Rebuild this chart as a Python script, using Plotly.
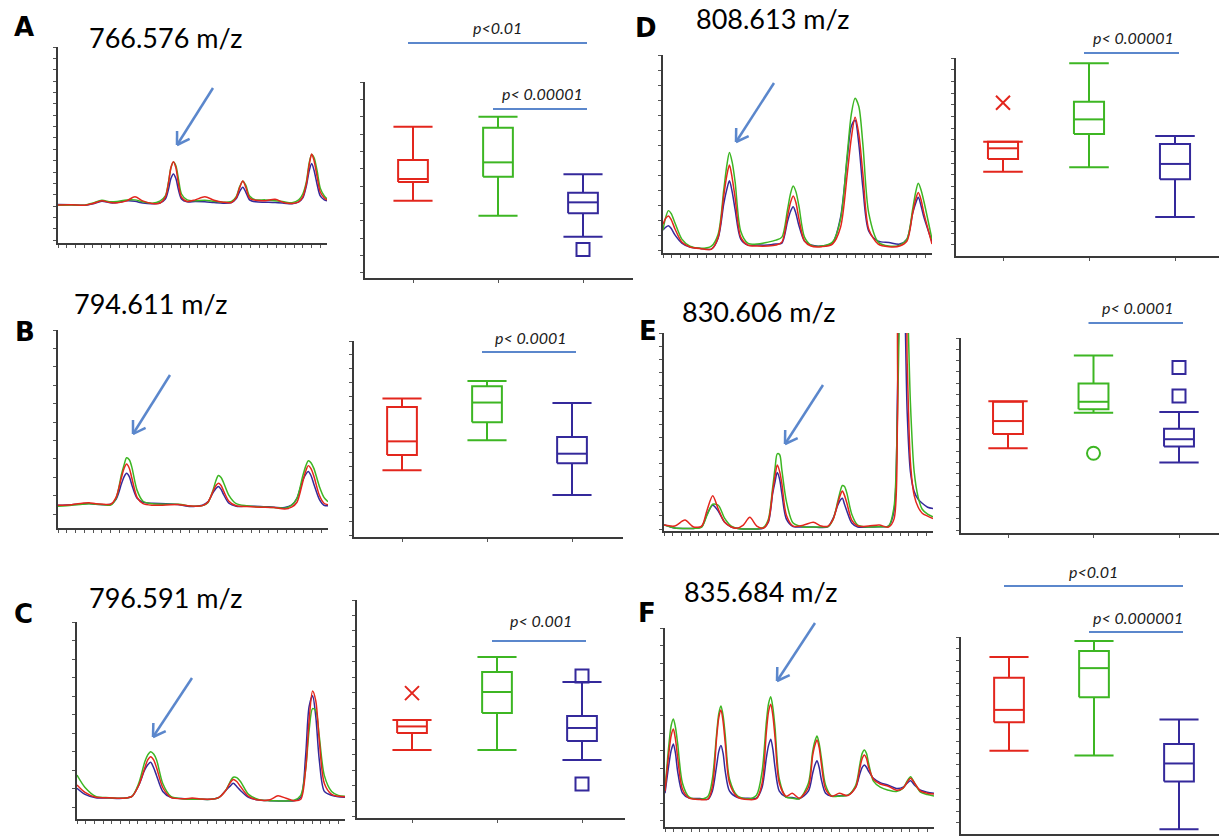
import math
import plotly.graph_objects as go

W, H = 1219, 836
RED, GREEN, NAVY, BLUE = "#e3261d", "#3db623", "#34299b", "#5b87cc"

# ---------------- spectra data (x: % of m/z window, y: % relative intensity) -------------
A_x = [0, 5, 10, 13, 16.3, 19.5, 22, 25.5, 28.6, 31.5, 35, 38, 39.9, 41.0, 42.0, 42.9, 43.8, 44.8, 45.9, 48, 51, 54.6,
       58, 61.4, 64.5, 66.2, 67.6, 68.7, 69.8, 71.2, 73.5, 77, 80.7, 84, 87, 89.5, 91, 92.3, 93.4, 94.3, 95.2, 96.3, 97.5,
       99, 100]
A_red = [19.4, 19.5, 19.3, 20.2, 21.5, 20.6, 20.5, 21.5, 23.6, 21.5, 20.2, 20.4, 23.4, 30, 38.5, 41.5, 38.5, 30, 23.4,
         21.2, 22.0, 23.6, 21.8, 20.8, 20.7, 23.0, 28.5, 31.6, 28.5, 23, 21.8, 21.6, 22.3, 20.6, 20.2, 21, 23.5, 30, 40,
         45.4, 42, 34, 26, 23, 22]
A_green = [19.2, 19.4, 19.3, 20.4, 21.8, 21.0, 21.2, 22.0, 22.0, 21.0, 20.3, 21.5, 24, 30.5, 38.5, 41.3, 39.5, 32.5, 25,
           22, 21.6, 21.8, 21.3, 20.8, 21.2, 23.5, 29, 31.5, 29.5, 24, 22, 22, 21.6, 21.0, 20.6, 22, 25, 31, 41, 45.2,
           43.5, 37, 28, 24, 22.5]
A_navy = [19.6, 19.5, 19.3, 20.0, 21.3, 20.5, 20.6, 21.5, 21.3, 20.4, 20.0, 20.5, 22.4, 27, 33, 35.2, 33, 27, 22.5, 21,
          21.2, 21.0, 20.6, 20.3, 20.6, 22.5, 26.5, 28.4, 26, 22, 21, 20.8, 20.6, 20.3, 20.0, 21, 23, 29, 37, 40.6, 37,
          30, 24, 22, 21.5]

B_x = [0, 5, 9, 11.5, 14, 17, 19.5, 21.5, 23.5, 24.5, 25.4, 26.4, 27.3, 29.3, 31.5, 35, 40, 45, 48, 51, 53.5, 55.5,
       57.5, 58.5, 59.4, 60.4, 61.3, 63.3, 66, 70, 75, 80, 84, 86.5, 88.5, 90.6, 91.7, 92.7, 93.7, 94.8, 96.8, 98.5, 100]
B_red = [11.5, 11.8, 12.5, 12.8, 12.2, 12, 12, 15.5, 25.5, 30.2, 32.3, 30.2, 25.5, 15.5, 12.3, 11.5, 11.6, 11.8, 11.2,
         11, 11.3, 13, 18.8, 21.5, 22.6, 21.5, 18.8, 13.5, 11.2, 10.8, 10.5, 10.3, 9.6, 10.5, 13, 23, 28.5, 31.5, 30, 26,
         16.5, 12.5, 11.8]
B_green = [11, 11.5, 12, 12.2, 12, 11.8, 11.6, 15, 27, 32, 35.5, 34.5, 31, 19, 13.5, 12.2, 12, 12, 11.3, 11, 11.3, 12.8,
           19.5, 24, 26.5, 25.5, 23, 16.5, 12.3, 11.2, 10.6, 10.4, 10, 11.5, 15, 26, 31, 34, 33, 30, 21, 15.5, 13.3]
B_navy = [11.5, 11.8, 12.2, 12.4, 12, 11.8, 12, 14.5, 22.3, 26, 27.6, 26, 22, 15, 13, 12.5, 12.3, 11.8, 11, 11, 11.5,
          13.2, 18, 20, 20.9, 19.5, 17, 12.5, 11, 11, 10.9, 10.5, 10.3, 11.5, 15, 24, 27, 28.5, 26.5, 22, 14.5, 11.5, 11.2]

C_x = [0, 3, 7, 12, 17, 20.5, 23, 25.3, 26.4, 27.5, 28.6, 29.7, 32, 35, 40, 43, 46, 50, 53, 55.5, 57, 58.3, 59.6, 61,
       64, 68, 72, 75, 78, 81, 83.5, 85.3, 86.6, 87.9, 89.1, 90.4, 92.3, 95, 97.5, 100]
C_red = [17.3, 13.5, 11, 10.8, 10.5, 11.5, 17, 26, 30, 31.6, 30, 26, 16, 11, 10.3, 10.6, 10.2, 10, 11, 14.5, 18, 20.1,
         19, 16.5, 11.5, 9.6, 9.8, 11.8, 10.5, 9.3, 10, 25, 50, 65, 60, 40, 18, 12.5, 11.5, 11.3]
C_green = [22.3, 16, 11.5, 10.8, 10.5, 11.5, 18, 29, 32.5, 34.2, 33, 30, 18, 11.5, 10.2, 10, 10, 10, 11, 14.5, 18.5, 21.2,
           21, 19, 12.5, 9.8, 9.3, 9.2, 9.2, 9.5, 12, 25, 45, 56, 55, 42, 22, 14, 12, 11.5]
C_navy = [15.6, 12.5, 10.8, 10.6, 10.5, 11.5, 17, 25, 27.5, 28.8, 26, 22, 14, 11, 10.3, 10.2, 10, 10, 11, 14.5, 16.5,
          18.1, 16.5, 14.5, 11, 9.6, 9.3, 9.2, 9.2, 9.3, 11, 32, 57, 62.5, 52, 30, 14, 12, 11.3, 11]

D_x = [0, 1, 2, 3, 4.5, 7, 10, 14, 18, 20.5, 22.6, 23.7, 24.7, 25.7, 26.8, 28.9, 31.5, 35, 39, 42, 44.2, 46.3, 47.4,
       48.4, 49.4, 50.5, 52.6, 55, 59, 63, 66, 68.5, 70, 71.4, 72.8, 74.3, 76.5, 80, 84, 88, 90.7, 92.8, 93.9, 94.9, 95.9,
       97, 100]
D_red = [14.5, 17.5, 18.7, 17, 12, 5.5, 3, 2.2, 2, 8, 29, 39, 44.4, 38, 28, 8, 4, 3.5, 3.5, 4, 5.5, 18.5, 25.5, 28.8,
         25.5, 17.5, 6, 3.5, 3.2, 4.5, 13, 40, 58, 68.5, 60, 40, 12, 4.5, 3.2, 3.5, 6, 20, 27, 30.5, 27, 20, 4.5]
D_green = [11.6, 18, 21.4, 20, 15, 7, 3.5, 2.4, 3.5, 9.5, 32, 44, 50.8, 46, 36, 11, 5, 4.5, 5.5, 6.5, 8, 22, 30, 33.8,
           31, 24, 8, 4, 3.5, 5.5, 17, 50, 70, 78.1, 74, 55, 20, 5.5, 3.5, 4, 7, 22, 30.5, 35.2, 32, 26, 6.9]
D_navy = [11.6, 13, 13.8, 12.5, 9, 5, 3, 2.3, 2, 7.5, 25, 32, 36.5, 31, 22, 7, 4, 4, 4, 4.5, 5, 16, 21, 23.4, 20, 14, 6,
          4, 3.5, 5, 18, 48, 64, 67, 55, 33, 11, 6, 5.3, 4.5, 7, 20, 25, 28.1, 24, 18, 5.7]

E_x = [0, 4, 7.8, 11, 14, 16, 18.1, 20.2, 22.5, 25, 27, 29.5, 31.9, 34.5, 37, 38.8, 40.4, 41.3, 42.1, 43.0, 43.8, 45.5,
       48, 52, 55.5, 58.5, 61, 62.9, 64.6, 65.5, 66.3, 67.1, 68, 69.8, 72, 76, 80, 83.5, 85.5, 86.8, 88.0, 89.2, 90.4,
       91.6, 93, 94.5, 96, 98, 100]
E_red = [3, 2.5, 5.5, 2, 2.5, 10.5, 17.8, 11, 4.5, 2, 1.4, 3, 6.9, 2.5, 1.5, 5, 20, 28, 33.3, 30, 24, 8, 2.5, 3, 4.4,
         2.5, 2.5, 6, 14, 18, 20.2, 18, 14, 5.5, 2.5, 2.5, 3, 2, 6, 55, 140, 140, 85, 35, 18, 12, 9, 7.5, 6.3]
E_green = [3, 1.5, 1.3, 1.3, 2, 8, 13.5, 13, 6.5, 2.5, 1.4, 1, 1, 1, 1.8, 6, 22, 32, 39, 38.5, 31, 15, 4, 2, 2, 2, 2.2,
           6, 15, 20, 23, 22.5, 19, 8.5, 3, 2, 2.2, 2.5, 12, 60, 130, 145, 120, 65, 30, 17, 11, 8.5, 7.1]
E_navy = [3.2, 1.5, 1.3, 1.3, 2.2, 8.5, 13, 10, 4.5, 2, 1.4, 1, 1, 1, 1.5, 4.5, 19, 25, 29.5, 26, 19, 6, 2.3, 2, 2, 1.8,
          2.2, 6.5, 13, 15.5, 16.5, 13.5, 10, 4, 2, 2, 2.2, 2.5, 10, 70, 150, 130, 60, 30, 20, 16, 14, 12, 11.3]

F_x = [0, 1.5, 2.3, 3.1, 3.9, 4.7, 6.5, 9, 13, 16, 17.6, 19.2, 20.0, 20.8, 21.6, 22.4, 24, 27, 31, 34, 36.1, 37.7, 38.5,
       39.3, 40.1, 40.9, 42.5, 45, 47.3, 50, 53.3, 54.9, 55.7, 56.5, 57.3, 58.1, 59.7, 62, 64.8, 68, 70.9, 72.5, 73.3,
       74.1, 74.9, 75.7, 77.5, 80, 83, 86, 88.5, 90, 91.3, 92.8, 95, 97.5, 100]
F_red = [18, 38, 46, 49.2, 44, 35, 19, 14.5, 13.8, 14, 20, 45, 55, 58.8, 53, 42, 22, 15, 13.8, 14.2, 22, 48, 58, 61.7,
         56, 45, 22, 15.5, 16.9, 14.5, 20, 36, 41, 43.7, 40, 32, 19, 15.5, 16.9, 15.8, 20, 30, 34.5, 36.2, 34.5, 30, 24,
         21.6, 20.5, 18.5, 19.5, 22.5, 24.5, 22, 18, 17, 16.6]
F_green = [19, 42, 51, 54.3, 50, 42, 22, 15, 14, 15.5, 24, 47, 57, 60.8, 56, 46, 24, 15.5, 14.2, 16, 28, 53, 62, 65.5,
           60, 50, 24, 15, 14.5, 14.2, 22, 38, 43, 45.7, 42, 35, 21, 15.5, 15.5, 16, 21, 32, 37, 38.7, 37, 32, 23, 20,
           18.5, 17.8, 19.5, 23, 25.3, 22, 17.5, 16.3, 15.6]
F_navy = [17, 32, 38.5, 41.7, 37, 28, 17, 14.5, 14.3, 14, 18, 31, 38, 40.9, 37, 28, 18, 14.8, 14.4, 14.5, 20, 35, 41,
          44.1, 39, 30, 18, 15, 14.8, 14.3, 18, 27, 31, 33.3, 30, 24, 17, 15.5, 15.7, 16, 20, 27, 30, 31.2, 30, 28, 24.5,
          22.3, 21, 19.4, 20, 22, 23.3, 21, 18.5, 17.5, 17]

# ---------------- box plot data (order: red, green, navy groups; % of axis) ----------------
A_low, A_q1, A_med, A_q3, A_high = [39.4, 31.8, 21.1], [49.0, 51.7, 33.0], [50.5, 59.0, 38.6], [60.2, 76.7, 43.5], [77.2, 82.3, 52.9]
A_out_grp, A_out_val, A_out_sym = [3], [14.6], ["square-open"]

B_low, B_q1, B_med, B_q3, B_high = [34.0, 49.3, 21.4], [41.8, 58.5, 37.6], [48.8, 68.6, 42.5], [66.3, 76.9, 51.0], [70.6, 79.6, 68.4]
B_out_grp, B_out_val, B_out_sym = [], [], []

C_low, C_q1, C_med, C_q3, C_high = [31.2, 31.2, 26.6], [39.0, 48.2, 35.3], [42.0, 57.8, 41.3], [45.0, 67.0, 46.8], [45.0, 73.9, 62.4]
C_out_grp, C_out_val, C_out_sym = [1, 3, 3], [57.3, 65.1, 15.6], ["x-thin", "square-open", "square-open"]

D_low, D_q1, D_med, D_q3, D_high = [42.6, 44.8, 19.7], [49.0, 61.6, 38.7], [54.4, 69.0, 46.5], [57.7, 77.9, 56.6], [57.7, 97.3, 60.6]
D_out_grp, D_out_val, D_out_sym = [1], [77.4], ["x-thin"]

E_low, E_q1, E_med, E_q3, E_high = [43.5, 61.7, 36.1], [50.8, 63.4, 44.3], [57.4, 67.3, 48.1], [67.3, 76.7, 53.5], [67.6, 91.0, 62.0]
E_out_grp, E_out_val, E_out_sym = [2, 3, 3], [40.9, 84.9, 70.2], ["circle-open", "square-open", "square-open"]

F_low, F_q1, F_med, F_q3, F_high = [42.3, 39.9, 2.4], [56.7, 69.4, 26.6], [63.0, 84.2, 35.8], [79.3, 92.9, 45.7], [89.8, 98.0, 58.1]
F_out_grp, F_out_val, F_out_sym = [], [], []

titles = ["766.576 m/z", "794.611 m/z", "796.591 m/z", "808.613 m/z", "830.606 m/z", "835.684 m/z"]
letters = ["A", "B", "C", "D", "E", "F"]
pvals = {"A": [("p<0.01", 1, 3), ("p< 0.00001", 2, 3)], "B": [("p< 0.0001", 2, 3)], "C": [("p< 0.001", 2, 3)],
         "D": [("p< 0.00001", 2, 3)], "E": [("p< 0.0001", 2, 3)], "F": [("p<0.01", 1, 3), ("p< 0.000001", 2, 3)]}

# ---------------- layout geometry (pixels in the picture) ----------------
spec_geo = {"A": (58, 327, 47, 243), "B": (58, 328, 330, 528), "C": (77, 345, 622, 819),
            "D": (663, 932, 55, 253), "E": (664, 933, 333, 531), "F": (665, 934, 628, 827)}
spec_ytick = {"A": 5.8, "B": 9.3, "C": 9.4, "D": 7.6, "E": 6.6, "F": 8.8}
box_geo = {"A": (365, 633, 82, 278, 413, 85), "B": (354, 623, 341, 537, 402, 85), "C": (357, 625, 600, 818, 412, 85),
           "D": (956, 1219, 58, 256, 1003, 86), "E": (961, 1219, 338, 533, 1008, 85.5),
           "F": (961, 1219, 637, 834, 1009, 85)}
box_ytick = {"A": 8.85, "B": 7.1, "C": 7.1, "D": 5.9, "E": 5.8, "F": 5.9}
title_pos = {"A": (165, 37), "B": (150, 303), "C": (165, 597), "D": (772, 19), "E": (758, 312), "F": (760, 591)}
letter_pos = {"A": (24, 27), "B": (25, 332), "C": (23, 614), "D": (646, 28), "E": (648, 331), "F": (647, 613)}
pbar_y = {"A": [(28, 43), (94, 109)], "B": [(337, 352)], "C": [(620, 641)], "D": [(37, 53)], "E": [(307, 323)],
          "F": [(571, 586), (617, 632)]}
arrows = {"A": ((213, 88), (177, 145)), "B": ((170, 375), (133, 434)), "C": ((192, 678), (153, 737)),
          "D": ((774, 83), (736, 142)), "E": ((823, 385), (785, 444)), "F": ((815, 623), (777, 681))}

spectra = {"A": (A_x, A_red, A_green, A_navy), "B": (B_x, B_red, B_green, B_navy), "C": (C_x, C_red, C_green, C_navy),
           "D": (D_x, D_red, D_green, D_navy), "E": (E_x, E_red, E_green, E_navy), "F": (F_x, F_red, F_green, F_navy)}
boxes = {"A": (A_low, A_q1, A_med, A_q3, A_high, A_out_grp, A_out_val, A_out_sym),
         "B": (B_low, B_q1, B_med, B_q3, B_high, B_out_grp, B_out_val, B_out_sym),
         "C": (C_low, C_q1, C_med, C_q3, C_high, C_out_grp, C_out_val, C_out_sym),
         "D": (D_low, D_q1, D_med, D_q3, D_high, D_out_grp, D_out_val, D_out_sym),
         "E": (E_low, E_q1, E_med, E_q3, E_high, E_out_grp, E_out_val, E_out_sym),
         "F": (F_low, F_q1, F_med, F_q3, F_high, F_out_grp, F_out_val, F_out_sym)}

fig = go.Figure()
shapes, annos = [], []
n_ax = 0
AX = dict(showline=True, linecolor="#3a3a3a", linewidth=1.5, ticks="outside", ticklen=3, tickwidth=1,
          tickcolor="#555", showticklabels=False, showgrid=False, zeroline=False, mirror=False, fixedrange=True)


def px(x):
    return min(max(x / W, 0.0), 1.0)


def py(y):
    return min(max(1 - y / H, 0.0), 1.0)


def new_axes(left, right, top, bottom, xr, yr, xdtick, ydtick, tickvals=None):
    global n_ax
    n_ax += 1
    s = "" if n_ax == 1 else str(n_ax)
    xa = dict(AX, domain=[px(left), px(right)], range=xr, anchor="y" + s)
    if tickvals is not None:
        xa["tickvals"] = tickvals
    else:
        xa.update(tick0=0, dtick=xdtick)
    ya = dict(AX, domain=[py(bottom), py(top)], range=yr, anchor="x" + s, tick0=yr[1], dtick=ydtick)
    fig.layout["xaxis" + s] = xa
    fig.layout["yaxis" + s] = ya
    return "x" + s, "y" + s


colors = [RED, GREEN, NAVY]
BW, CW = 0.175, 0.23
PFONT = dict(family="Lato, Carlito, sans-serif", size=16, color="#1a1a1a", style="italic")

for i, key in enumerate(letters):
    # spectrum
    l, r, t, b = spec_geo[key]
    xs, ys = new_axes(l, r, t, b, [0, 100], [0, 100], 3.25, spec_ytick[key])
    sx, sr, sg, sn = spectra[key]
    for yy, c in ((sn, NAVY), (sg, GREEN), (sr, RED)):
        fig.add_trace(go.Scatter(x=sx, y=yy, xaxis=xs, yaxis=ys, mode="lines",
                                 line=dict(color=c, width=1.5, shape="spline", smoothing=0.8),
                                 showlegend=False, hoverinfo="skip"))
    # box plot
    l, r, t, b, c1, sp = box_geo[key]
    right_px = min(r, W)
    xr = [1 - (c1 - l) / sp, 1 + (right_px - c1) / sp]
    xb, yb = new_axes(l, right_px, t, b, xr, [0, 100], None, box_ytick[key], tickvals=[1, 2, 3])
    lo, q1, md, q3, hi, og, ov, osym = boxes[key]
    for g in range(3):
        c = g + 1
        X, Y = [], []
        X += [c - BW, c + BW, c + BW, c - BW, c - BW, None]
        Y += [q1[g], q1[g], q3[g], q3[g], q1[g], None]
        X += [c - BW, c + BW, None, c, c, None, c - CW, c + CW, None, c, c, None, c - CW, c + CW]
        Y += [md[g], md[g], None, q3[g], hi[g], None, hi[g], hi[g], None, q1[g], lo[g], None, lo[g], lo[g]]
        fig.add_trace(go.Scatter(x=X, y=Y, xaxis=xb, yaxis=yb, mode="lines",
                                 line=dict(color=colors[g], width=2), showlegend=False, hoverinfo="skip"))
    for g, v, s in zip(og, ov, osym):
        fig.add_trace(go.Scatter(x=[g], y=[v], xaxis=xb, yaxis=yb, mode="markers",
                                 marker=dict(symbol=s, size=13 if s != "x-thin" else 14, color=colors[g - 1],
                                             line=dict(color=colors[g - 1], width=2)),
                                 showlegend=False, hoverinfo="skip", cliponaxis=False))
    # p-value bars
    for (txt, a, bcat), (ty, by) in zip(pvals[key], pbar_y[key]):
        a_px = c1 + (a - 1) * sp - 5
        b_px = c1 + (bcat - 1) * sp + 4
        shapes.append(dict(type="line", xref="paper", yref="paper", x0=px(a_px), x1=px(b_px), y0=py(by), y1=py(by),
                           line=dict(color=BLUE, width=2)))
        annos.append(dict(text=txt, x=px((a_px + b_px) / 2 + (0 if a == 1 else 2)), y=py(ty), xref="paper",
                          yref="paper", showarrow=False, xanchor="center", yanchor="middle", font=PFONT))
    # titles / letters
    tx, ty = title_pos[key]
    annos.append(dict(text=titles[i], x=px(tx), y=py(ty), xref="paper", yref="paper", showarrow=False,
                      xanchor="center", yanchor="middle", font=dict(family="Lato, sans-serif", size=27, color="#000")))
    lx, ly = letter_pos[key]
    annos.append(dict(text="<b>" + key + "</b>", x=px(lx), y=py(ly), xref="paper", yref="paper", showarrow=False,
                      xanchor="center", yanchor="middle",
                      font=dict(family="DejaVu Sans, Arial, sans-serif", size=26, color="#000")))
    # arrow
    (x0, y0), (x1, y1) = arrows[key]
    shapes.append(dict(type="line", xref="paper", yref="paper", x0=px(x0), y0=py(y0), x1=px(x1), y1=py(y1),
                       line=dict(color=BLUE, width=2.5)))
    dx, dy = x0 - x1, y0 - y1
    L = math.hypot(dx, dy)
    ux, uy = dx / L, dy / L
    for ang in (math.radians(32), math.radians(-32)):
        ax_ = ux * math.cos(ang) - uy * math.sin(ang)
        ay_ = ux * math.sin(ang) + uy * math.cos(ang)
        shapes.append(dict(type="line", xref="paper", yref="paper", x0=px(x1), y0=py(y1), x1=px(x1 + 14 * ax_),
                           y1=py(y1 + 14 * ay_), line=dict(color=BLUE, width=2.5)))

fig.update_layout(width=W, height=H, margin=dict(l=0, r=0, t=0, b=0), paper_bgcolor="white",
                  plot_bgcolor="white", shapes=shapes, annotations=annos, showlegend=False)
fig.write_html("out.html", config={"displayModeBar": False},
               post_script="document.body.style.margin='0';")
